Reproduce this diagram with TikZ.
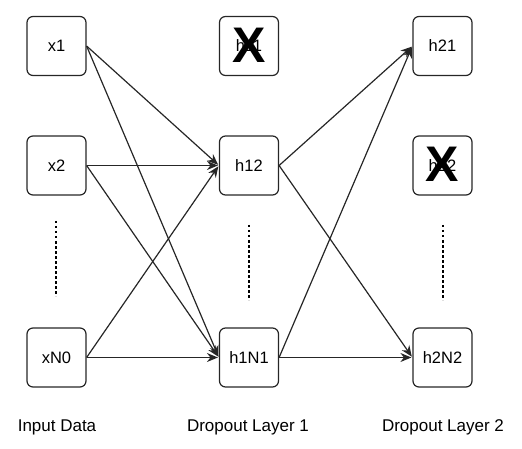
\documentclass[tikz,border=0pt]{standalone}
\usepackage{fontspec}
\setmainfont{Liberation Sans}
\usetikzlibrary{arrows.meta}
\begin{document}
\begin{tikzpicture}[x=1pt,y=-1pt,
  unit/.style={draw=black!85, line width=1.2pt, rounded corners=6pt, minimum width=59pt, minimum height=59pt, inner sep=0pt, font=\fontsize{16.5}{18}\selectfont},
  conn/.style={line width=1.2pt, draw=black!85, -{Stealth[length=11pt,width=9pt]}, shorten >=1pt},
  layerlabel/.style={font=\fontsize{17}{19}\selectfont},
  cross/.style={font=\fontsize{50}{50}\selectfont\bfseries, inner sep=0pt},
  dots/.style={line width=1.4pt, dash pattern=on 2.5pt off 2.5pt}]
\useasboundingbox (0,0) rectangle (522,449);
\node[unit] (x1) at (56.5,46) {x1};
\node[unit] (x2) at (56.5,165.5) {x2};
\node[unit] (xN) at (56.5,357.5) {xN0};
\node[unit] (h11) at (249,46) {h11};
\node[unit] (h12) at (249,165.5) {h12};
\node[unit] (h1N) at (249,357.5) {h1N1};
\node[unit] (h21) at (442.5,46) {h21};
\node[unit] (h22) at (442.5,165.5) {h22};
\node[unit] (h2N) at (442.5,357.5) {h2N2};
\node[cross] (c1) at (249,45) {X};
\node[cross] (c2) at (442.5,164.5) {X};
\coordinate (d1a) at (56,221); \coordinate (d1b) at (56,296);
\coordinate (d2a) at (249,225); \coordinate (d2b) at (249,300);
\coordinate (d3a) at (443,225); \coordinate (d3b) at (443,300);
\draw[dots] (d1a) -- (d1b);
\draw[dots] (d2a) -- (d2b);
\draw[dots] (d3a) -- (d3b);
\draw[conn] (x1.east) -- (h12.west);
\draw[conn] (x1.east) -- (h1N.west);
\draw[conn] (x2.east) -- (h12.west);
\draw[conn] (x2.east) -- (h1N.west);
\draw[conn] (xN.east) -- (h12.west);
\draw[conn] (xN.east) -- (h1N.west);
\draw[conn] (h12.east) -- (h21.west);
\draw[conn] (h12.east) -- (h2N.west);
\draw[conn] (h1N.east) -- (h21.west);
\draw[conn] (h1N.east) -- (h2N.west);
\node[layerlabel] (l1) at (57,427) {Input Data};
\node[layerlabel] (l2) at (248,427) {Dropout Layer 1};
\node[layerlabel] (l3) at (443,427) {Dropout Layer 2};
\end{tikzpicture}
\end{document}
